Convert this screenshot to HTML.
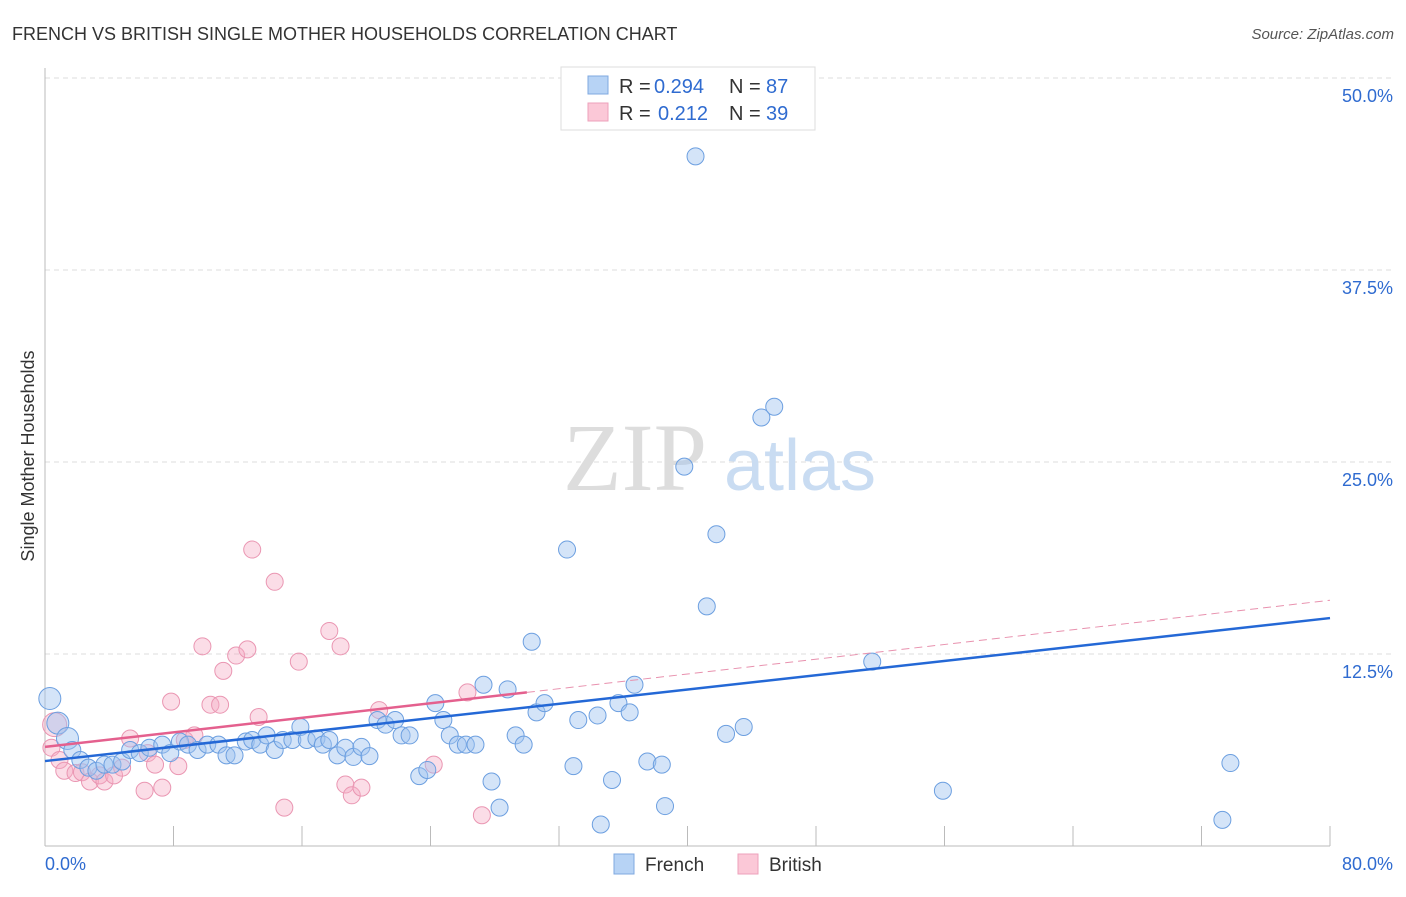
<!DOCTYPE html>
<html><head><meta charset="utf-8"><style>
body{margin:0;background:#fff;font-family:"Liberation Sans",sans-serif}
</style></head><body>
<svg width="1406" height="892" xmlns="http://www.w3.org/2000/svg" style="font-family:'Liberation Sans',sans-serif">
<text x="12" y="40" font-size="18" fill="#333">FRENCH VS BRITISH SINGLE MOTHER HOUSEHOLDS CORRELATION CHART</text>
<text x="1394" y="39" font-size="15" fill="#555" font-style="italic" text-anchor="end">Source: ZipAtlas.com</text>
<g id="grid"></g>
<g>
<text x="635" y="490" font-size="96" font-family="Liberation Serif" fill="#ddd" text-anchor="middle">ZIP</text>
<text x="800" y="490" font-size="72" fill="#c9dcf2" text-anchor="middle">atlas</text>
</g>
<g id="axes"></g>
<g id="marks"></g>
<text transform="translate(34,456) rotate(-90)" font-size="18" fill="#333" text-anchor="middle">Single Mother Households</text>
<g>
<rect x="561" y="67" width="254" height="63" fill="#fff" stroke="#ddd"/>
<rect x="588" y="76" width="20" height="18" fill="#b7d3f5" stroke="#7fa8e0"/>
<rect x="588" y="103" width="20" height="18" fill="#fbc8d7" stroke="#eea1bb"/>
<text x="619" y="93" font-size="20" fill="#333">R =</text>
<text x="654" y="93" font-size="20" fill="#2f6bd0">0.294</text>
<text x="729" y="93" font-size="20" fill="#333">N =</text>
<text x="766" y="93" font-size="20" fill="#2f6bd0">87</text>
<text x="619" y="120" font-size="20" fill="#333">R =</text>
<text x="658" y="120" font-size="20" fill="#2f6bd0">0.212</text>
<text x="729" y="120" font-size="20" fill="#333">N =</text>
<text x="766" y="120" font-size="20" fill="#2f6bd0">39</text>
</g>
<g>
<rect x="614" y="854" width="20" height="20" fill="#b7d3f5" stroke="#7fa8e0"/>
<text x="645" y="871" font-size="19" fill="#333">French</text>
<rect x="738" y="854" width="20" height="20" fill="#fbc8d7" stroke="#eea1bb"/>
<text x="769" y="871" font-size="19" fill="#333">British</text>
</g>
</svg>
<script>
const yTicks=[12.5,25,37.5,50];
const yTickLabels=["12.5%","25.0%","37.5%","50.0%"];
const xTicks=[0,8,16,24,32,40,48,56,64,72,80];
const frenchX=[0.3,0.8,1.4,1.7,2.2,2.7,3.2,3.7,4.2,4.8,5.3,5.9,6.5,7.3,7.8,8.4,8.9,9.5,10.1,10.8,11.3,11.8,12.5,12.9,13.4,13.8,14.3,14.8,15.4,15.9,16.3,16.9,17.3,17.7,18.2,18.7,19.2,19.7,20.2,20.7,21.2,21.8,22.2,22.7,23.3,23.8,24.3,24.8,25.2,25.7,26.2,26.8,27.3,27.8,28.3,28.8,29.3,29.8,30.6,31.1,30.3,32.5,32.9,33.2,34.4,34.6,35.3,35.7,36.4,36.7,37.5,38.4,38.6,39.8,40.5,41.2,41.8,42.4,43.5,44.6,45.4,51.5,55.9,73.3,73.8];
const frenchY=[9.6,8.0,7.0,6.25,5.6,5.1,4.9,5.3,5.3,5.5,6.25,6.05,6.4,6.6,6.05,6.8,6.6,6.25,6.6,6.6,5.9,5.9,6.8,6.9,6.6,7.2,6.25,6.9,6.9,7.75,6.9,7.0,6.6,6.9,5.9,6.4,5.8,6.45,5.85,8.2,7.9,8.2,7.2,7.2,4.55,4.95,9.3,8.2,7.2,6.6,6.6,6.6,10.5,4.2,2.5,10.2,7.2,6.6,8.7,9.3,13.3,19.3,5.2,8.2,8.5,1.4,4.3,9.3,8.7,10.5,5.5,5.3,2.6,24.7,44.9,15.6,20.3,7.3,7.75,27.9,28.6,12.0,3.6,1.7,5.4];
const britishX=[0.6,0.4,0.9,1.2,1.9,2.3,2.8,3.4,3.7,4.3,4.8,5.3,6.2,6.4,6.85,7.3,7.85,8.3,8.7,9.3,9.8,10.3,10.9,11.1,11.9,12.6,12.9,13.3,14.3,14.9,15.8,17.7,18.4,18.7,19.1,19.7,20.8,24.2,26.3,27.2];
const britishY=[7.9,6.4,5.6,4.9,4.75,4.8,4.2,4.6,4.2,4.6,5.1,7.0,3.6,6.05,5.3,3.8,9.4,5.2,6.9,7.2,13.0,9.2,9.2,11.4,12.4,12.8,19.3,8.4,17.2,2.5,12.0,14.0,13.0,4.0,3.3,3.8,8.85,5.3,10.0,2.0];
const frenchTrend=[[0,5.53],[80,14.84]];
const britishTrend=[[0,6.45],[30,10.0]];
const britishTrendExt=[[30,10.0],[80,16.0]];
const X=v=>45+v*(1285/80);
const Y=v=>846-v*15.36;
const NS="http://www.w3.org/2000/svg";
function mk(tag,attrs,parent){const e=document.createElementNS(NS,tag);for(const k in attrs)e.setAttribute(k,attrs[k]);parent.appendChild(e);return e;}
const grid=document.getElementById('grid');
yTicks.forEach((t,i)=>{
  const l=mk('line',{x1:45,x2:1394,y1:Y(t),y2:Y(t),stroke:'#ddd','stroke-dasharray':'5,4'},grid);
  
  
  const tx=mk('text',{x:1393,y:Y(t)+24,'font-size':18,fill:'#2f6bd0','text-anchor':'end'},grid);
  tx.textContent=yTickLabels[i];
  
  
});
const axes=document.getElementById('axes');
mk('line',{x1:45,x2:45,y1:68,y2:846,stroke:'#bbb'},axes);
mk('line',{x1:45,x2:1330,y1:846,y2:846,stroke:'#bbb'},axes);
xTicks.forEach(t=>{const l=mk('line',{x1:X(t),x2:X(t),y1:826,y2:846,stroke:'#bbb'},axes);
  
  });
let a=mk('text',{x:45,y:870,'font-size':18,fill:'#2f6bd0'},axes);a.textContent='0.0%';

a=mk('text',{x:1393,y:870,'font-size':18,fill:'#2f6bd0','text-anchor':'end'},axes);a.textContent='80.0%';

const marks=document.getElementById('marks');
britishX.forEach((x,i)=>{const c=mk('circle',{cx:X(x),cy:Y(britishY[i]),r:i==0?12:8.5,fill:'rgba(246,170,196,0.4)',stroke:'#ea96b2','stroke-width':1},marks);
  
  });
frenchX.forEach((x,i)=>{const c=mk('circle',{cx:X(x),cy:Y(frenchY[i]),r:i<3?11:8.5,fill:'rgba(160,196,240,0.45)',stroke:'#6c9fe0','stroke-width':1},marks);
  
  });
function line(p,style,name){const l=mk('line',Object.assign({x1:X(p[0][0]),y1:Y(p[0][1]),x2:X(p[1][0]),y2:Y(p[1][1])},style),marks);
  
  }
line(britishTrendExt,{stroke:'#e891ae','stroke-width':1,'stroke-dasharray':'8,5'},'british-trend-extension');
line(britishTrend,{stroke:'#e4608e','stroke-width':2.5},'british-trend-line');
line(frenchTrend,{stroke:'#2468d6','stroke-width':2.5},'french-trend-line');
</script>
</body></html>
